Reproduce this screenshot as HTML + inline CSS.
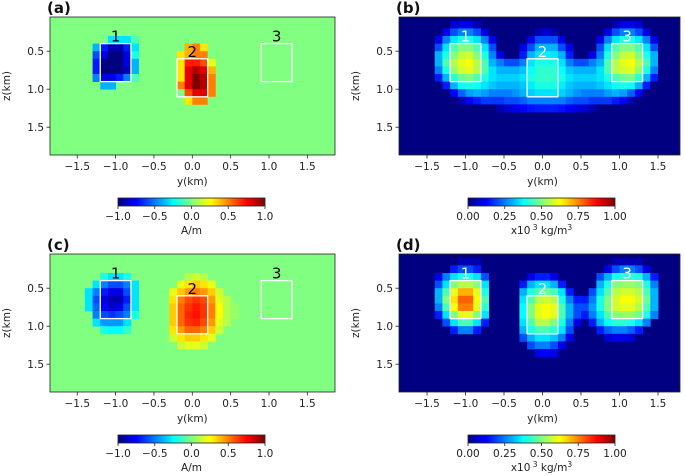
<!DOCTYPE html>
<html><head><meta charset="utf-8">
<style>
html,body{margin:0;padding:0;background:#fff;}
svg{display:block;font-family:"DejaVu Sans","Liberation Sans",sans-serif;}
</style></head>
<body>
<svg id="fig" width="685" height="476" viewBox="0 0 685 476" xmlns="http://www.w3.org/2000/svg">
<defs>
<linearGradient id="jet" x1="0" x2="1" y1="0" y2="0">
<stop offset="0" stop-color="#000080"/><stop offset="0.11" stop-color="#0000ff"/>
<stop offset="0.125" stop-color="#0000ff"/><stop offset="0.34" stop-color="#00d4ff"/>
<stop offset="0.375" stop-color="#00ffff" /><stop offset="0.5" stop-color="#80ff80"/>
<stop offset="0.625" stop-color="#ffff00"/><stop offset="0.66" stop-color="#ffe000"/>
<stop offset="0.875" stop-color="#ff0000"/><stop offset="1" stop-color="#800000"/>
</linearGradient>
</defs>
</svg>
<script>
// ---- data: grid cells 0.1 km, column index i -> left edge y = -1.5 + 0.1*i ; rows [zTop, startIdx, values]
const boxesY = [[-1.2,-0.8],[-0.2,0.2],[0.9,1.3]];
const boxesZ = [[0.4,0.9],[0.6,1.1],[0.4,0.9]];
const boxLabels = ['1','2','3'];
const yTicks = [-1.5,-1.0,-0.5,0.0,0.5,1.0,1.5];
const zTicks = [0.5,1.0,1.5];
const magTicks = [-1.0,-0.5,0.0,0.5,1.0];
const denTicks = [0.00,0.25,0.50,0.75,1.00];

const rowsA = [
 [0.3,4,[-.3,-.3,-.3,-.1]],
 [0.4,2,[-.4,-.7,-.9,-.9,-.7,-.3]],
 [0.5,2,[-.6,-.8,-1,-1,-.8,-.2]],
 [0.6,2,[-.7,-1,-1,-1,-.8,-.4]],
 [0.7,2,[-.7,-1,-1,-1,-.9,-.4]],
 [0.8,2,[-.5,-.8,-.8,-.7,-.5,-.1]],
 [0.9,3,[-.4,-.4]],
 [0.4,13,[0,.4,.5,.3,0]],
 [0.5,13,[.3,.4,.5,.5,0]],
 [0.6,13,[.3,.7,.7,.6,.2]],
 [0.7,13,[.3,.8,.9,.8,.4]],
 [0.8,13,[.3,.8,1.0,.9,.5]],
 [0.9,13,[.5,.8,1.0,.9,.5]],
 [1.0,13,[0,.6,.8,.8,.5]],
 [1.1,13,[0,.3,.5,.5,0]]
];
const rowsB = [
 [0.1,0,[0,0,0,.08,.1,.1,.05,0,0,0,0,0,0,0,0,0,0,0,0,0,0,0,0,0,.05,.1,.1,.08,0,0,0]],
 [0.2,0,[0,0,.1,.2,.25,.25,.2,.1,0,0,0,0,0,0,.05,.08,.05,0,0,0,0,0,0,.1,.2,.25,.25,.2,.1,0,0]],
 [0.3,0,[0,.1,.25,.35,.4,.4,.35,.25,.1,0,0,0,0,.1,.2,.2,.2,.1,0,0,0,0,.1,.25,.35,.4,.4,.35,.25,.1,0]],
 [0.4,0,[0,.2,.35,.45,.5,.5,.45,.35,.2,0,0,0,.1,.2,.3,.3,.3,.2,.1,0,0,0,.2,.35,.45,.5,.5,.45,.35,.2,0]],
 [0.5,0,[0,.3,.4,.5,.56,.58,.5,.4,.25,.1,0,0,.15,.3,.35,.36,.35,.3,.15,0,0,.1,.25,.4,.5,.56,.58,.5,.4,.3,0]],
 [0.6,0,[0,.3,.45,.55,.6,.62,.55,.45,.3,.25,.2,.2,.25,.35,.4,.4,.4,.35,.25,.2,.2,.25,.3,.45,.55,.6,.62,.55,.45,.3,0]],
 [0.7,0,[0,.25,.4,.52,.58,.6,.55,.45,.35,.3,.3,.3,.32,.38,.42,.42,.42,.38,.32,.3,.3,.3,.35,.45,.55,.58,.6,.52,.4,.25,0]],
 [0.8,0,[0,.15,.3,.42,.48,.5,.45,.4,.35,.33,.33,.33,.35,.4,.42,.43,.42,.4,.35,.33,.33,.33,.35,.4,.45,.48,.5,.42,.3,.15,0]],
 [0.9,0,[0,0,.15,.3,.38,.4,.38,.35,.32,.3,.3,.3,.32,.36,.4,.4,.4,.36,.32,.3,.3,.3,.32,.35,.38,.4,.38,.3,.15,0,0]],
 [1.0,0,[0,0,0,.12,.22,.28,.3,.28,.25,.25,.25,.27,.3,.33,.35,.35,.35,.33,.3,.27,.25,.25,.25,.28,.3,.28,.22,.12,0,0,0]],
 [1.1,0,[0,0,0,0,.05,.12,.15,.18,.18,.18,.2,.2,.22,.25,.25,.25,.25,.25,.22,.2,.2,.18,.18,.18,.15,.12,.05,0,0,0,0]],
 [1.2,0,[0,0,0,0,0,0,0,0,0,.05,.08,.1,.12,.14,.15,.15,.15,.14,.12,.1,.08,.05,0,0,0,0,0,0,0,0,0]]
];
const rowsC = [
 [0.3,3,[-.2,-.3,-.3,-.2]],
 [0.4,2,[-.3,-.5,-.6,-.6,-.5,-.3]],
 [0.5,1,[-.3,-.5,-.7,-.8,-.8,-.6,-.3]],
 [0.6,1,[-.3,-.6,-.8,-.9,-.9,-.7,-.3]],
 [0.7,1,[-.3,-.55,-.75,-.85,-.8,-.6,-.3]],
 [0.8,2,[-.5,-.6,-.65,-.6,-.5,-.2]],
 [0.9,2,[-.3,-.45,-.45,-.45,-.3]],
 [1.0,3,[-.2,-.25,-.25,-.15]],
 [0.3,14,[.1,.15,.1]],
 [0.4,13,[.2,.3,.35,.3,.2]],
 [0.5,12,[.2,.35,.45,.5,.45,.35,.15]],
 [0.6,12,[.3,.5,.6,.65,.6,.45,.2,.1]],
 [0.7,12,[.35,.55,.65,.7,.65,.5,.25,.1,.05]],
 [0.8,12,[.35,.55,.68,.72,.65,.5,.25,.1,.05]],
 [0.9,12,[.35,.55,.65,.68,.6,.45,.2,.1]],
 [1.0,12,[.3,.45,.55,.55,.5,.35,.15]],
 [1.1,12,[.15,.3,.35,.35,.3,.2]],
 [1.2,13,[.15,.2,.2,.15]]
];
const rowsD = [
 [0.1,4,[.05,.05,.05]],[0.1,24,[.05,.05,.05,.05]],
 [0.2,3,[.15,.2,.2,.15]],[0.2,23,[.1,.2,.25,.25,.2,.1]],
 [0.3,1,[.1,.25,.35,.4,.4,.35,.2]],[0.3,13,[.1,.15,.15,.1]],[0.3,22,[.2,.3,.4,.42,.42,.4,.3,.15]],
 [0.4,1,[.2,.35,.5,.55,.55,.5,.35]],[0.4,12,[.15,.3,.35,.35,.3,.15]],[0.4,22,[.3,.4,.5,.52,.52,.5,.4,.25]],
 [0.5,1,[.3,.45,.6,.7,.7,.6,.4]],[0.5,12,[.3,.4,.45,.48,.45,.35,.15]],[0.5,21,[.2,.35,.45,.55,.58,.58,.55,.45,.3]],
 [0.6,1,[.3,.5,.65,.78,.78,.62,.45]],[0.6,12,[.35,.45,.55,.58,.55,.4,.25,.15,.15,.25,.4,.5,.58,.62,.62,.58,.48,.3]],
 [0.7,1,[.25,.45,.62,.75,.75,.6,.42]],[0.7,12,[.38,.5,.6,.62,.6,.45,.3,.2,.2,.28,.4,.5,.58,.6,.6,.55,.45,.3]],
 [0.8,1,[.15,.35,.5,.6,.6,.5,.35]],[0.8,12,[.38,.5,.6,.62,.6,.45,.3,.2,.15,.25,.35,.45,.5,.52,.52,.48,.4,.25]],
 [0.9,2,[.2,.35,.45,.45,.35,.15]],[0.9,12,[.35,.45,.55,.55,.5,.4,.25,.1]],[0.9,21,[.15,.3,.38,.42,.42,.4,.35,.25]],
 [1.0,3,[.15,.25,.25,.15]],[1.0,12,[.3,.4,.45,.45,.42,.35,.2]],[1.0,22,[.15,.22,.25,.25,.22,.15]],
 [1.1,12,[.2,.3,.35,.35,.32,.25,.1]],[1.1,23,[.08,.1,.1,.08]],
 [1.2,13,[.2,.25,.25,.2,.1]],
 [1.3,14,[.1,.12,.1]]
];

const NS='http://www.w3.org/2000/svg';
const svg=document.getElementById('fig');
function mk(tag,attrs,parent){const e=document.createElementNS(NS,tag);for(const k in attrs)e.setAttribute(k,attrs[k]);(parent||svg).appendChild(e);return e;}
function jet(v){const c=x=>Math.max(0,Math.min(1,x));
 const r=c(1.5-Math.abs(4*v-3)),g=c(1.5-Math.abs(4*v-2)),b=c(1.5-Math.abs(4*v-1));
 return 'rgb('+Math.round(r*255)+','+Math.round(g*255)+','+Math.round(b*255)+')';}
function fmt(v,d){return (v<0?'\u2212':'')+Math.abs(v).toFixed(d);}

function panel(o){
 const g=mk('g',{});
 
 
 const L=o.L,R=o.R,T=o.T,B=o.B;
 const X=y=>o.x0+y*o.kx;
 const Z=z=>T+(z-0.05)*76;
 const norm=o.norm;
 const cid='clip'+o.id;
 const cp=mk('clipPath',{id:cid},g);mk('rect',{x:L,y:T,width:R-L,height:B-T},cp);
 const bg=mk('rect',{x:L,y:T,width:R-L,height:B-T,fill:jet(norm(0))},g);
 
 
 const cells=mk('g',{'clip-path':'url(#'+cid+')'},g);
 
 
 o.rows.forEach(row=>{const z=row[0],s=row[1],vals=row[2];
  vals.forEach((v,k)=>{const y=-1.5+0.1*(s+k);
   const x1=X(y),x2=X(y+0.1),y1=Z(z),y2=Z(z+0.1);
   const r=mk('rect',{x:x1,y:y1,width:x2-x1+0.4,height:y2-y1+0.4,fill:jet(norm(v))},cells);
   
   
  });});
 boxesY.forEach((by,i)=>{const bz=boxesZ[i];
  const b=mk('rect',{x:X(by[0]),y:Z(bz[0]),width:X(by[1])-X(by[0]),height:Z(bz[1])-Z(bz[0]),fill:'none',stroke:'#fff','stroke-width':1.3},g);
  
  
  const t=mk('text',{x:X((by[0]+by[1])/2),y:Z(bz[0])-2,'text-anchor':'middle','font-size':15,fill:o.lab},g);
  t.textContent=boxLabels[i];
  
  
 });
 const fr=mk('rect',{x:L,y:T,width:R-L,height:B-T,fill:'none',stroke:'#222','stroke-width':0.8},g);
 
 
 yTicks.forEach(v=>{const x=X(v);
  mk('line',{x1:x,x2:x,y1:B,y2:B+3.5,stroke:'#222','stroke-width':0.8},g);
  const t=mk('text',{x:x,y:B+15,'text-anchor':'middle','font-size':10.5,fill:'#222'},g);t.textContent=fmt(v,1);
  
  });
 zTicks.forEach(v=>{const y=Z(v);
  mk('line',{x1:L-3.5,x2:L,y1:y,y2:y,stroke:'#222','stroke-width':0.8},g);
  const t=mk('text',{x:L-6,y:y+4,'text-anchor':'end','font-size':10.5,fill:'#222'},g);t.textContent=fmt(v,1);
  
  });
 const xt=mk('text',{x:X(0),y:B+30,'text-anchor':'middle','font-size':10.5,fill:'#222'},g);xt.textContent='y(km)';
 
 
 const zt=mk('text',{x:0,y:0,'text-anchor':'middle','font-size':10.5,fill:'#222',transform:'translate('+(L-40)+','+(T+69)+') rotate(-90)'},g);zt.textContent='z(km)';
 
 
 const pl=mk('text',{x:L-3,y:T-4,'font-size':15,'font-weight':'bold',fill:'#111'},g);pl.textContent=o.label;
 
 
 // colorbar
 const cb=mk('g',{},g);
 
 
 const cx1=o.cb[0],cx2=o.cb[1],cy=B+43;
 mk('rect',{x:cx1,y:cy,width:cx2-cx1,height:8,fill:'url(#jet)',stroke:'#222','stroke-width':0.8},cb);
 o.ticks.forEach((v,i)=>{const x=cx1+(cx2-cx1)*i/(o.ticks.length-1);
  mk('line',{x1:x,x2:x,y1:cy+8,y2:cy+11,stroke:'#222','stroke-width':0.8},cb);
  const t=mk('text',{x:x,y:cy+22,'text-anchor':'middle','font-size':10.5,fill:'#222'},cb);t.textContent=fmt(v,o.dec);
  
  });
 const u=mk('text',{x:(cx1+cx2)/2,y:cy+36,'text-anchor':'middle','font-size':10.5,fill:'#222'},cb);
 
 
 if(o.unit==='A/m'){u.textContent='A/m';}
 else{u.innerHTML='x10<tspan dy="-4" font-size="7.5"> 3</tspan><tspan dy="4"> kg/m</tspan><tspan dy="-4" font-size="7.5">3</tspan>';}
}
const magN=v=>(v+1)/2, denN=v=>v;
panel({id:'a',name:'panel-a',label:'(a)',L:50,R:335,T:17,B:155,x0:192.3,kx:76.7,norm:magN,rows:rowsA,lab:'#000',cb:[118,265],ticks:magTicks,dec:1,unit:'A/m'});
panel({id:'b',name:'panel-b',label:'(b)',L:399,R:680,T:17,B:155,x0:542.5,kx:77,norm:denN,rows:rowsB,lab:'#fff',cb:[468,615],ticks:denTicks,dec:2,unit:'den'});
panel({id:'c',name:'panel-c',label:'(c)',L:50,R:335,T:254,B:392,x0:192.3,kx:76.7,norm:magN,rows:rowsC,lab:'#000',cb:[118,265],ticks:magTicks,dec:1,unit:'A/m'});
panel({id:'d',name:'panel-d',label:'(d)',L:399,R:680,T:254,B:392,x0:542.5,kx:77,norm:denN,rows:rowsD,lab:'#fff',cb:[468,615],ticks:denTicks,dec:2,unit:'den'});
</script>
</body></html>
